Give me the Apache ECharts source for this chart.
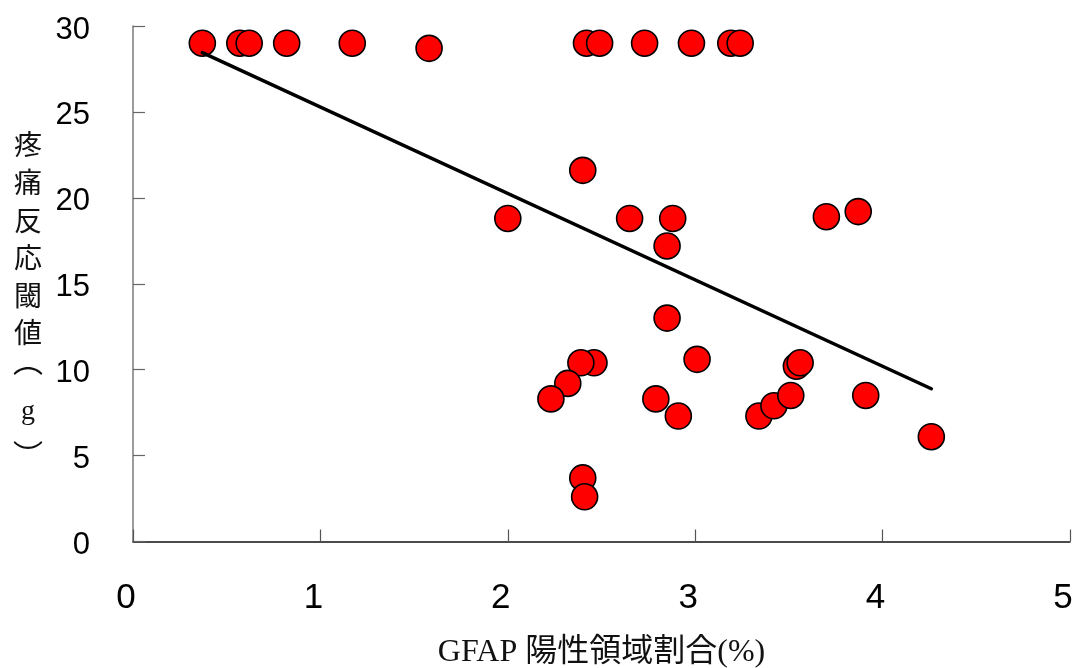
<!DOCTYPE html>
<html>
<head>
<meta charset="utf-8">
<title>GFAP 陽性領域割合と疼痛反応閾値</title>
<script src="https://cdn.jsdelivr.net/npm/echarts@6/dist/echarts.min.js"></script>
<style>
  html, body { margin: 0; padding: 0; background: #fff; }
  #chart { width: 1077px; height: 668px; }
</style>
</head>
<body>
<div id="chart"></div>
<script>
// GFAP positive area ratio (%) per animal
const gfapRatio = [
  0.37, 0.57, 0.62, 0.82, 1.17, 1.58, 2.42, 2.49, 2.73, 2.98, 3.19, 3.24,
  2.40, 2.00, 2.65, 2.88, 2.85, 3.70, 3.87, 2.85,
  3.01, 2.46, 2.39, 2.32, 2.23, 2.79, 2.91, 3.34, 2.40, 2.41,
  3.42, 3.51, 3.54, 3.56, 3.91, 4.26
];
// Pain response threshold (g) per animal
const painThreshold = [
  29.0, 29.0, 29.0, 29.0, 29.0, 28.7, 29.0, 29.0, 29.0, 29.0, 29.0, 29.0,
  21.6, 18.8, 18.8, 18.8, 17.2, 18.9, 19.2, 13.0,
  10.6, 10.4, 10.4, 9.2, 8.3, 8.3, 7.3, 7.3, 3.7, 2.6,
  7.9, 8.5, 10.2, 10.4, 8.5, 6.1
];
// Regression line end points
const trendX = [0.37, 4.26];
const trendY = [28.45, 8.89];

const xTicks = ['0', '1', '2', '3', '4', '5'];
const yTicks = ['0', '5', '10', '15', '20', '25', '30'];
const xTitle = 'GFAP 陽性領域割合(%)';
// Stacked y-axis title, written top to bottom (vertical-form parentheses)
const yTitleChars = ['疼', '痛', '反', '応', '閾', '値', '︵', 'g', '︶'];

const points = gfapRatio.map((x, i) => [x, painThreshold[i]]);
const trend = trendX.map((x, i) => [x, trendY[i]]);

// one text element per character of the stacked y title;
// the vertical-form brackets sit off-centre in their em box, so nudge them
const titleFont = '"Liberation Serif", "Noto Sans CJK JP", serif';
const bracketNudge = { '︵': -9, '︶': 9 };
const yTitleGraphics = yTitleChars.map((ch, i) => ({
  type: 'text',
  x: 28,
  y: 148 + i * 37.6 + (bracketNudge[ch] || 0),
  style: {
    text: ch,
    fontFamily: titleFont,
    fontSize: ch in bracketNudge ? 30 : 28,
    align: 'center',
    verticalAlign: 'middle',
    fill: '#111'
  }
}));

const chart = echarts.init(document.getElementById('chart'), null, { renderer: 'canvas' });

chart.setOption({
  animation: false,
  backgroundColor: '#ffffff',
  grid: {
    left: 133, right: 7, top: 26, bottom: 126.5,
    containLabel: false,
    outerBoundsMode: 'none'
  },
  xAxis: {
    type: 'value',
    min: 0, max: 5, interval: 1,
    splitLine: { show: false },
    axisLine: { show: true, lineStyle: { color: '#111', width: 1.5 } },
    axisTick: { show: true, inside: true, length: 12, lineStyle: { color: '#555', width: 1.2 } },
    axisLabel: {
      margin: 39,
      padding: [0, 14, 0, 0],
      fontFamily: '"Liberation Sans Narrow", "Liberation Sans", sans-serif',
      fontSize: 35,
      color: '#000',
      formatter: (v) => xTicks[Math.round(v)]
    },
    name: xTitle,
    nameLocation: 'middle',
    nameGap: 95,
    nameTextStyle: {
      fontFamily: titleFont,
      fontSize: 32,
      color: '#111'
    }
  },
  yAxis: {
    type: 'value',
    min: 0, max: 30, interval: 5,
    splitLine: { show: false },
    axisLine: { show: true, lineStyle: { color: '#7a7a7a', width: 1.5 } },
    axisTick: { show: true, inside: true, length: 12, lineStyle: { color: '#666', width: 1.2 } },
    axisLabel: {
      margin: 43,
      color: '#000',
      formatter: (v) => '{v|' + yTicks[Math.round(v / 5)] + '}',
      rich: {
        v: {
          fontFamily: '"Liberation Sans", Arial, sans-serif',
          fontSize: 31,
          color: '#000',
          padding: [8, 0, 0, 0]
        }
      }
    }
  },
  graphic: yTitleGraphics,
  series: [
    {
      type: 'scatter',
      data: points,
      symbol: 'circle',
      symbolSize: 26,
      z: 2,
      itemStyle: { color: '#ff0000', borderColor: '#000', borderWidth: 1.6, opacity: 1 }
    },
    {
      type: 'line',
      data: trend,
      symbol: 'none',
      z: 3,
      lineStyle: { color: '#000', width: 3.5, cap: 'round' }
    }
  ]
});
</script>
</body>
</html>
